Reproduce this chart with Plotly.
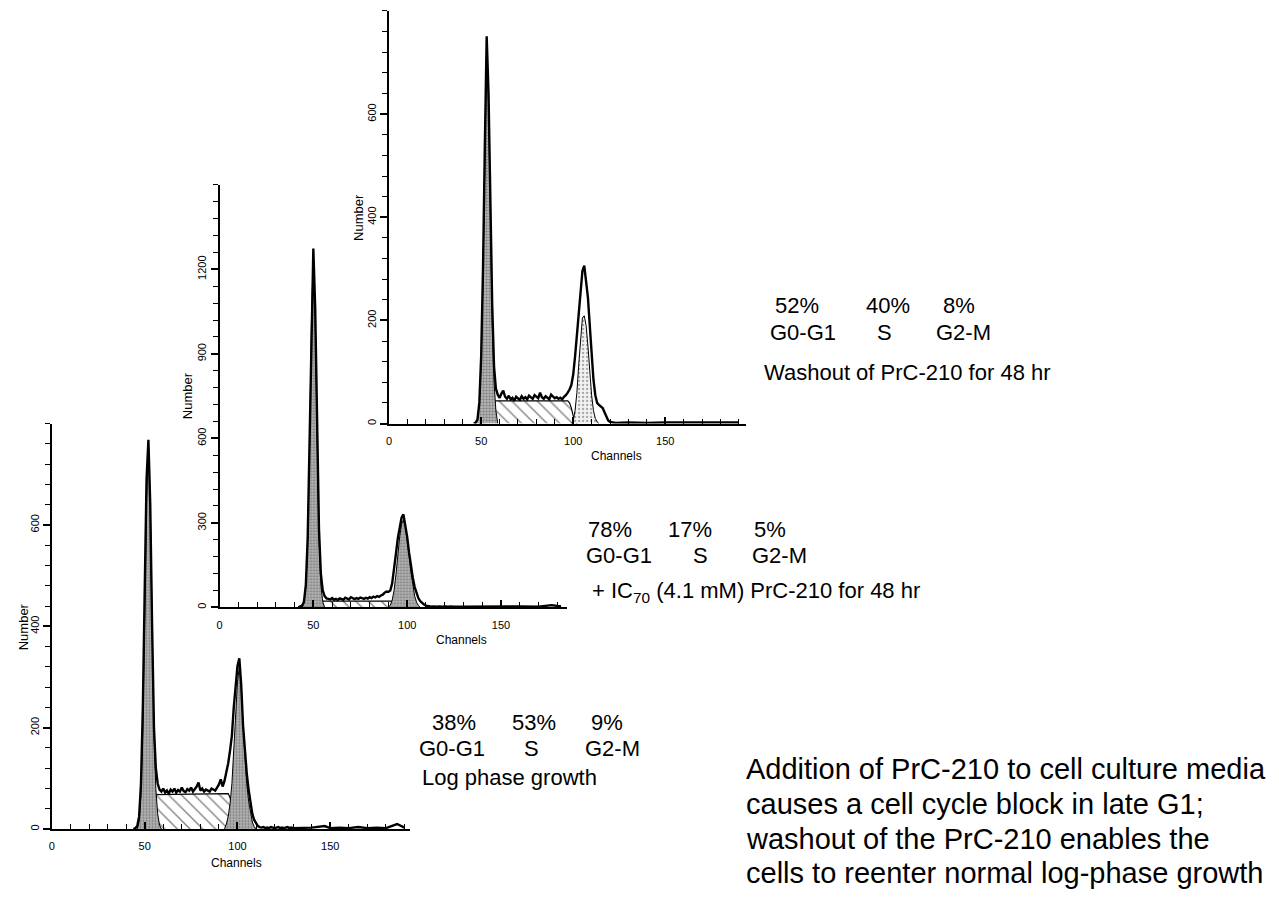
import plotly.graph_objects as go

W, H = 1279, 919
FONT = "Liberation Sans"

# ---------------- Log phase growth (bottom panel) ----------------
log_ch = list(range(44, 131))
log_counts = [0, 2, 6, 25, 90, 240, 470, 690, 768, 640,
              400, 200, 120, 90, 78, 74, 80, 72, 76, 70,
              78, 74, 80, 72, 77, 74, 82, 75, 73, 79,
              76, 82, 74, 78, 84, 92, 76, 80, 74, 78,
              76, 74, 80, 78, 76, 82, 88, 98, 84, 95,
              110, 130, 155, 185, 240, 290, 322, 337, 285, 205,
              150, 110, 78, 50, 30, 18, 11, 6, 4, 3,
              4, 2, 3, 2, 4, 3, 2, 3, 4, 2,
              3, 2, 3, 4, 2, 3, 2]
log_tail_ch = [135, 140, 147, 150, 155, 160, 165, 170, 175, 180, 186, 190]
log_tail = [2, 3, 6, 2, 3, 2, 4, 2, 3, 2, 10, 3]
log_g1_ch = list(range(46, 60))
log_g1 = [0, 15, 70, 200, 420, 650, 760, 640, 400, 190, 80, 30, 8, 0]
log_s_ch = [52, 53, 54, 55, 95, 96, 97, 98, 99, 100, 101]
log_s = [0, 20, 55, 68, 70, 62, 45, 28, 12, 3, 0]
log_g2_ch = list(range(93, 111))
log_g2 = [0, 10, 25, 50, 90, 150, 220, 290, 320, 285, 205, 140, 90, 55, 30, 14, 5, 0]
log_marks = [50, 101]
log_pct = ["38%", "53%", "9%"]

# ---------------- + IC70 PrC-210 (middle panel) ----------------
ic_ch = list(range(42, 126))
ic_counts = [0, 2, 6, 20, 80, 250, 600, 1050, 1274, 1060,
             640, 280, 120, 60, 40, 32, 30, 28, 33, 27,
             30, 26, 32, 29, 27, 34, 30, 28, 36, 31,
             29, 33, 30, 35, 32, 30, 34, 31, 36, 33,
             38, 35, 40, 37, 42, 45, 52, 56, 55, 60,
             85, 130, 190, 245, 290, 318, 330, 295, 250, 195,
             145, 105, 72, 48, 32, 22, 15, 10, 6, 4,
             3, 2, 3, 2, 2, 3, 2, 2, 3, 2,
             2, 3, 2, 2]
ic_tail_ch = [130, 140, 150, 160, 170, 177, 182]
ic_tail = [2, 3, 2, 3, 2, 8, 3]
ic_g1_ch = list(range(44, 57))
ic_g1 = [0, 15, 70, 230, 580, 1020, 1250, 1030, 610, 250, 80, 20, 0]
ic_s_ch = [51, 52, 53, 54, 55, 92, 93, 94, 95, 96]
ic_s = [0, 5, 12, 18, 22, 22, 18, 10, 4, 0]
ic_g2_ch = list(range(90, 108))
ic_g2 = [0, 8, 25, 60, 115, 185, 250, 295, 310, 290, 245, 185, 125, 75, 40, 18, 6, 0]
ic_marks = [49.5, 97.5]
ic_pct = ["78%", "17%", "5%"]

# ---------------- Washout (top panel) ----------------
wash_ch = list(range(46, 124))
wash_counts = [0, 2, 8, 40, 130, 300, 540, 751, 640, 420,
               230, 110, 68, 56, 50, 58, 64, 52, 48, 54,
               47, 50, 44, 52, 49, 46, 53, 48, 51, 47,
               54, 50, 48, 55, 52, 49, 60, 51, 48, 53,
               50, 47, 56, 52, 49, 51, 48, 50, 47, 52,
               55, 60, 66, 75, 95, 130, 170, 215, 262, 296,
               306, 280, 244, 190, 128, 85, 55, 40, 36, 33,
               30, 22, 12, 6, 3, 2, 2, 1]
wash_tail_ch = [130, 140, 150, 160, 170, 180, 190]
wash_tail = [2, 1, 2, 2, 1, 2, 2]
wash_g1_ch = list(range(47, 60))
wash_g1 = [0, 8, 35, 120, 285, 520, 735, 620, 400, 200, 80, 25, 0]
wash_s_ch = [49, 50, 51, 52, 53, 54, 55, 56, 57, 58, 97, 98, 99, 100, 101, 102]
wash_s = [0, 3, 6, 10, 15, 22, 30, 36, 41, 44, 44, 40, 30, 15, 4, 0]
wash_g2_ch = list(range(99, 115))
wash_g2 = [0, 5, 25, 60, 115, 170, 205, 209, 190, 150, 100, 55, 25, 10, 3, 0]
wash_marks = [53, 105.7]
wash_pct = ["52%", "40%", "8%"]

phases = ["G0-G1", "S", "G2-M"]

note_lines = ["Addition of PrC-210 to cell culture media",
              "causes a cell cycle block in late G1;",
              "washout of the PrC-210 enables the",
              "cells to reenter normal log-phase growth"]


def fx(p):
    return p / W


def fy(p):
    return 1 - p / H


fig = go.Figure()

DARK = dict(shape=".", fgcolor="#3a3a3a", bgcolor="#b4b4b4", size=3, solidity=0.35)
LIGHT = dict(shape=".", fgcolor="#555555", bgcolor="#f2f2f2", size=4, solidity=0.25)
HATCH = dict(shape="\\", fgcolor="black", bgcolor="white", size=9, solidity=0.15)


def add_panel(n, ch, counts, tail_ch, tail, g1_ch, g1, s_ch, s, g2_ch, g2, g2_pat, marks, mark_y):
    xa = "x" if n == 1 else "x%d" % n
    ya = "y" if n == 1 else "y%d" % n
    fig.add_scatter(x=s_ch, y=s, xaxis=xa, yaxis=ya, mode="lines", fill="tozeroy",
                    fillpattern=HATCH, line=dict(color="black", width=1.2))
    fig.add_scatter(x=g1_ch, y=g1, xaxis=xa, yaxis=ya, mode="lines", fill="tozeroy",
                    fillpattern=DARK, line=dict(color="black", width=1))
    fig.add_scatter(x=g2_ch, y=g2, xaxis=xa, yaxis=ya, mode="lines", fill="tozeroy",
                    fillpattern=g2_pat, line=dict(color="black", width=1))
    fig.add_scatter(x=ch + tail_ch, y=counts + tail, xaxis=xa, yaxis=ya, mode="lines",
                    line=dict(color="black", width=2.4))
    fig.add_scatter(x=marks, y=[mark_y] * len(marks), xaxis=xa, yaxis=ya, mode="markers",
                    cliponaxis=False,
                    marker=dict(symbol="triangle-up", size=14, color="black"))


add_panel(1, log_ch, log_counts, log_tail_ch, log_tail, log_g1_ch, log_g1,
          log_s_ch, log_s, log_g2_ch, log_g2, DARK, log_marks, -13)
add_panel(2, ic_ch, ic_counts, ic_tail_ch, ic_tail, ic_g1_ch, ic_g1,
          ic_s_ch, ic_s, ic_g2_ch, ic_g2, DARK, ic_marks, -23)
add_panel(3, wash_ch, wash_counts, wash_tail_ch, wash_tail, wash_g1_ch, wash_g1,
          wash_s_ch, wash_s, wash_g2_ch, wash_g2, LIGHT, wash_marks, -13)

tickfont = dict(family=FONT, size=11, color="black")


def xax(dom, rng, anchor):
    return dict(domain=dom, range=rng, anchor=anchor, showgrid=False, zeroline=False,
                showline=True, linecolor="black", linewidth=2,
                tickmode="array", tickvals=[0, 50, 100, 150], ticks="inside",
                ticklen=7, tickwidth=1.5, tickcolor="black", tickfont=tickfont,
                ticklabelstandoff=6,
                minor=dict(tickmode="linear", tick0=0, dtick=10, ticks="inside",
                           ticklen=5, tickwidth=1.3, tickcolor="black"))


def yax(dom, rng, vals, step, anchor):
    return dict(domain=dom, range=rng, anchor=anchor, showgrid=False, zeroline=False,
                showline=True, linecolor="black", linewidth=2,
                tickmode="array", tickvals=vals, ticks="outside", ticklen=7,
                tickwidth=1.5, tickcolor="black", tickfont=tickfont, tickangle=-90,
                minor=dict(tickmode="linear", tick0=0, dtick=step, ticks="outside",
                           ticklen=5, tickwidth=1.3, tickcolor="black"))


fig.update_layout(
    width=W, height=H,
    margin=dict(l=0, r=0, t=0, b=0),
    paper_bgcolor="white", plot_bgcolor="rgba(0,0,0,0)",
    showlegend=False,
    xaxis=xax([fx(41), fx(400)], [0, 193], "y"),
    yaxis=yax([fy(822), fy(416)], [0, 800], [0, 200, 400, 600], 40, "x"),
    xaxis2=xax([fx(209), fx(557)], [0, 185], "y2"),
    yaxis2=yax([fy(600), fy(177)], [0, 1500], [0, 300, 600, 900, 1200], 60, "x2"),
    xaxis3=xax([fx(379), fx(737)], [0, 194], "y3"),
    yaxis3=yax([fy(416), fy(3)], [0, 800], [0, 200, 400, 600], 40, "x3"),
)

ann = []


def text(x, y, s, size=22, anchor="center", angle=0):
    ann.append(dict(x=fx(x), y=fy(y), xref="paper", yref="paper", text=s, showarrow=False,
                    xanchor=anchor, yanchor="middle", textangle=angle, align="left",
                    font=dict(family=FONT, size=size, color="black")))


# axis titles
for (nx, ny) in [(12, 619), (177, 388), (349, 210)]:
    text(nx, ny, "Number", size=13, angle=-90)
for (cx, cy) in [(226, 856), (452, 633), (607, 448)]:
    text(cx, cy, "Channels", size=12)

# phase percentages and phase names
blocks = [(wash_pct, [788, 879, 950], 298, [794, 876, 955], 325),
          (ic_pct, [600, 681, 761], 522, [609, 691, 770], 548),
          (log_pct, [444, 524, 597], 715, [442, 522, 603], 741)]
for pct, px_, ypct, phx, yph in blocks:
    for p, xx in zip(pct, px_):
        text(xx, ypct, p)
    for p, xx in zip(phases, phx):
        text(xx, yph, p)

text(753, 365, "Washout of PrC-210 for 48 hr", anchor="left")
text(580, 585, "+ IC<sub>70</sub> (4.1 mM) PrC-210 for 48 hr", anchor="left")
text(410, 770, "Log phase growth", anchor="left")

for line, yy in zip(note_lines, [762, 797, 832, 866]):
    text(735, yy, line, size=29, anchor="left")

fig.update_layout(annotations=ann)

fig.write_html("out.html")
